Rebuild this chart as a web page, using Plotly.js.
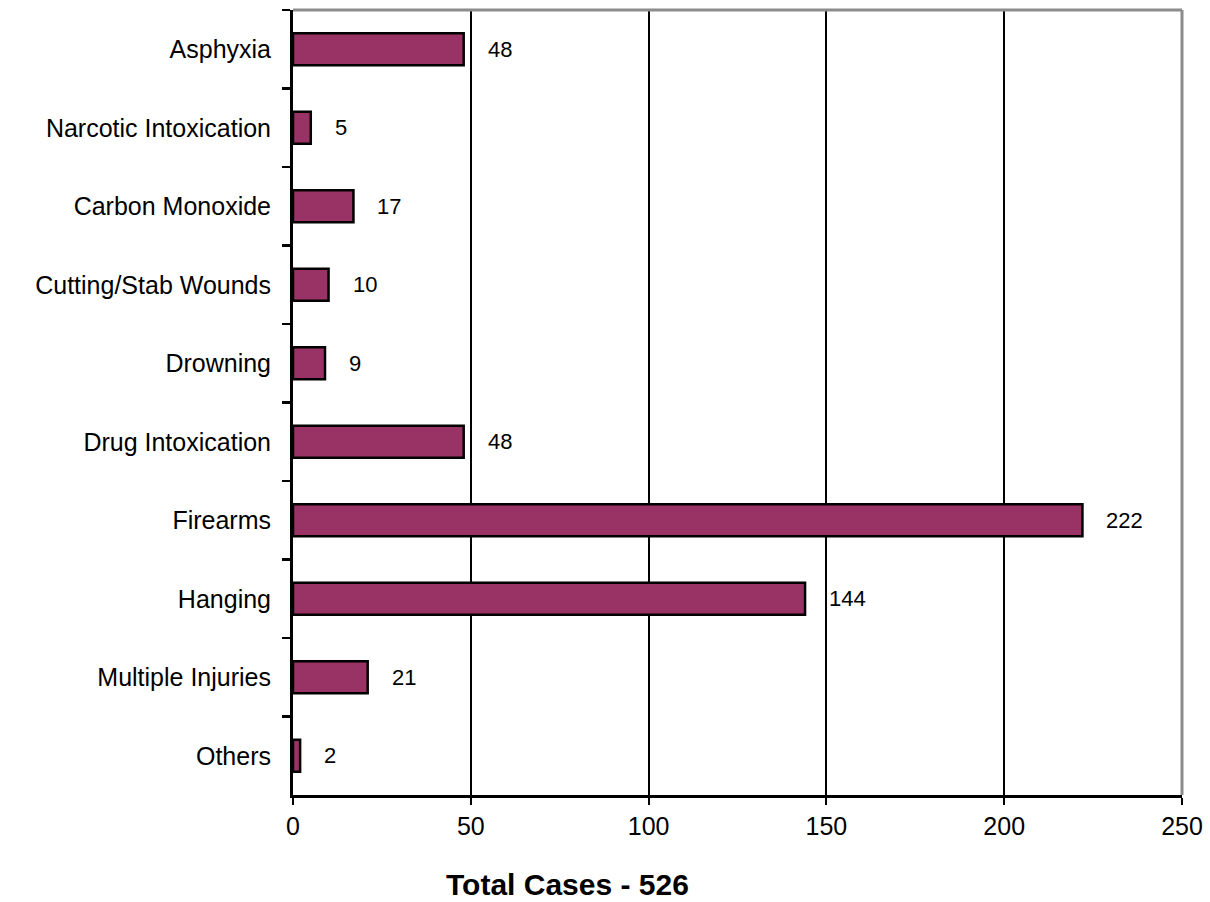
<!DOCTYPE html>
<html>
<head>
<meta charset="utf-8">
<script src="https://cdn.plot.ly/plotly-3.0.1.min.js"></script>
<style>html,body{margin:0;padding:0;background:#fff;}#chart{width:1210px;height:902px;}</style>
</head>
<body>
<div id="chart"></div>
<script>
const categories = ["Asphyxia", "Narcotic Intoxication", "Carbon Monoxide", "Cutting/Stab Wounds", "Drowning", "Drug Intoxication", "Firearms", "Hanging", "Multiple Injuries", "Others"];
const cases = [48, 5, 17, 10, 9, 48, 222, 144, 21, 2];
const xTickValues = [0, 50, 100, 150, 200, 250];
const axisTitle = "Total Cases - 526";

const FONT = "Liberation Sans, Arial, sans-serif";

const trace = {
  type: "bar",
  orientation: "h",
  y: categories,
  x: cases,
  width: 0.41,
  marker: {color: "#993366", line: {color: "#000000", width: 2.5}},
  hoverinfo: "x+y"
};

const annotations = categories.map((c, i) => ({
  x: cases[i], y: c, xref: "x", yref: "y",
  text: String(cases[i]), showarrow: false,
  xanchor: "left", yanchor: "middle", xshift: 22,
  font: {family: FONT, size: 22, color: "#000"}
}));
annotations.push({
  x: 0.309, y: 0, xref: "paper", yref: "paper",
  text: "<b>" + axisTitle + "</b>", showarrow: false,
  xanchor: "center", yanchor: "middle", yshift: -89,
  font: {family: FONT, size: 30, color: "#000"}
});

const layout = {
  width: 1210, height: 902,
  margin: {l: 293, r: 28, t: 10, b: 107, pad: 0},
  paper_bgcolor: "#ffffff", plot_bgcolor: "#ffffff",
  showlegend: false,
  font: {family: FONT, color: "#000"},
  xaxis: {
    range: [0, 250], tickvals: xTickValues, ticktext: xTickValues.map(String),
    showgrid: true, gridcolor: "#000000", gridwidth: 2,
    zeroline: false, showline: true, linecolor: "#000000", linewidth: 3,
    ticks: "outside", ticklen: 7, tickwidth: 2, tickcolor: "#000",
    tickfont: {family: FONT, size: 25, color: "#000"},
    fixedrange: true
  },
  yaxis: {
    type: "category", autorange: "reversed",
    tickson: "boundaries", ticks: "outside", ticklen: 8, tickwidth: 2.5, tickcolor: "#000",
    showgrid: false, zeroline: false, showline: true, linecolor: "#000000", linewidth: 3,
    tickfont: {family: FONT, size: 25, color: "#000"},
    ticklabelstandoff: 14,
    fixedrange: true
  },
  shapes: [
    {type: "line", xref: "paper", yref: "paper", x0: 0, x1: 1, y0: 1, y1: 1, line: {color: "#8c8c8c", width: 3}},
    {type: "line", xref: "paper", yref: "paper", x0: 1, x1: 1, y0: 0, y1: 1, line: {color: "#8c8c8c", width: 3}}
  ],
  annotations: annotations
};

Plotly.newPlot("chart", [trace], layout, {displayModeBar: false, staticPlot: true});
</script>
</body>
</html>
